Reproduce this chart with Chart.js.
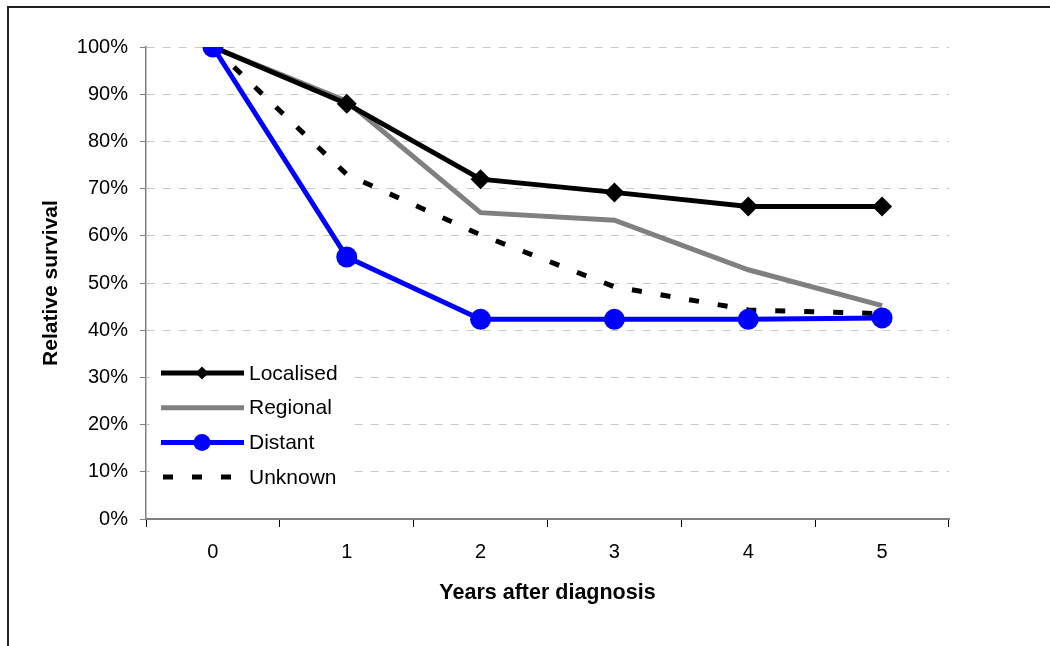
<!DOCTYPE html>
<html>
<head>
<meta charset="utf-8">
<script src="https://cdn.jsdelivr.net/npm/chart.js@4"></script>
<style>
  body { margin: 0; background: #fff; }
  #wrap { position: relative; width: 1050px; height: 646px; overflow: hidden; }
  #frame { position: absolute; left: 7px; top: 6px; width: 1100px; height: 700px;
           border-left: 2px solid #222; border-top: 2px solid #222; }
  canvas { position: absolute; left: 0; top: 0; }
</style>
</head>
<body>
<div id="wrap">
  <div id="frame"></div>
  <canvas id="survivalChart" width="1050" height="646"></canvas>
</div>
<script>
const years = ['0', '1', '2', '3', '4', '5'];
const localised = [100, 88, 72, 69.2, 66.2, 66.2];
const regional = [100, 88.5, 64.9, 63.3, 52.8, 45.2];
const distant = [100, 55.5, 42.3, 42.3, 42.3, 42.6];
const unknown = [100, 73, 60.2, 49.2, 44.3, 43.5];
const yTicks = [0, 10, 20, 30, 40, 50, 60, 70, 80, 90, 100];

const FONT = 'Liberation Sans, Arial, sans-serif';

// legend drawn inside the plot, lower left, on a white box
const insideLegend = {
  id: 'insideLegend',
  afterDraw(chart) {
    const ctx = chart.ctx;
    ctx.save();
    ctx.fillStyle = '#fff';
    ctx.fillRect(150, 352, 198, 146);
    const items = [0, 1, 2, 3];
    items.forEach(function (i) {
      const ds = chart.data.datasets[i];
      const y = 373 + i * 34.7;
      ctx.beginPath();
      ctx.strokeStyle = ds.borderColor;
      ctx.lineWidth = ds.borderWidth;
      ctx.setLineDash(ds.borderDash || []);
      ctx.lineCap = 'butt';
      ctx.moveTo(ds.borderDash ? 163 : 161, y);
      ctx.lineTo(244, y);
      ctx.stroke();
      ctx.setLineDash([]);
      ctx.fillStyle = ds.pointBackgroundColor;
      if (ds.pointStyle === 'rectRot' && ds.pointRadius > 0) {
        ctx.beginPath();
        ctx.moveTo(202, y - 6.5);
        ctx.lineTo(208.5, y);
        ctx.lineTo(202, y + 6.5);
        ctx.lineTo(195.5, y);
        ctx.closePath();
        ctx.fill();
      } else if (ds.pointStyle === 'circle' && ds.pointRadius > 0) {
        ctx.beginPath();
        ctx.arc(202, y, 8.5, 0, Math.PI * 2);
        ctx.fill();
      }
      ctx.fillStyle = '#000';
      ctx.font = '21px ' + FONT;
      ctx.textBaseline = 'middle';
      ctx.textAlign = 'left';
      ctx.fillText(ds.label, 249, y + 1);
    });
    ctx.restore();
  }
};

new Chart(document.getElementById('survivalChart').getContext('2d'), {
  type: 'line',
  data: {
    labels: years,
    datasets: [
      {
        label: 'Localised', data: localised, order: 1,
        borderColor: '#000', borderWidth: 5, tension: 0,
        pointStyle: 'rectRot', pointRadius: 10, pointBorderWidth: 0,
        pointBackgroundColor: '#000', pointBorderColor: '#000'
      },
      {
        label: 'Regional', data: regional, order: 2,
        borderColor: '#808080', borderWidth: 5, tension: 0,
        pointRadius: 0, pointBackgroundColor: '#808080'
      },
      {
        label: 'Distant', data: distant, order: 0,
        borderColor: '#0000ff', borderWidth: 5, tension: 0,
        pointStyle: 'circle', pointRadius: 10.5, pointBorderWidth: 0,
        pointBackgroundColor: '#0000ff', pointBorderColor: '#0000ff'
      },
      {
        label: 'Unknown', data: unknown, order: 3,
        borderColor: '#000', borderWidth: 5, borderDash: [10, 19], tension: 0,
        borderCapStyle: 'butt',
        pointRadius: 0, pointBackgroundColor: '#000'
      }
    ]
  },
  options: {
    responsive: false,
    animation: false,
    layout: { padding: { top: 47, right: 101, left: 0, bottom: 0 } },
    plugins: { legend: { display: false }, tooltip: { enabled: false } },
    scales: {
      x: {
        offset: true,
        afterFit: function (s) { s.height = 127; },
        grid: {
          display: true, drawOnChartArea: false, offset: true,
          tickLength: 8, color: '#000', lineWidth: 1
        },
        border: { color: '#808080', width: 2 },
        ticks: { color: '#000', font: { family: FONT, size: 20 }, padding: 13 },
        title: {
          display: true, text: 'Years after diagnosis', color: '#000',
          font: { family: FONT, size: 21.5, weight: 'bold' },
          padding: { top: 0, bottom: 40 }
        }
      },
      y: {
        min: 0, max: 100,
        afterFit: function (s) { s.width = 146; },
        afterBuildTicks: function (s) { s.ticks = yTicks.map(v => ({ value: v })); },
        grid: {
          color: '#c8c8c8', lineWidth: 1, tickLength: 6,
          tickColor: '#808080', tickWidth: 1, tickBorderDash: [100, 0]
        },
        border: { color: '#808080', width: 1.5, dash: [8, 8] },
        ticks: {
          color: '#000', font: { family: FONT, size: 20 }, padding: 12,
          callback: v => v + '%'
        },
        title: {
          display: true, text: 'Relative survival', color: '#000',
          font: { family: FONT, size: 21, weight: 'bold' },
          padding: { top: 39, bottom: 0 }
        }
      }
    }
  },
  plugins: [insideLegend]
});
</script>
</body>
</html>
